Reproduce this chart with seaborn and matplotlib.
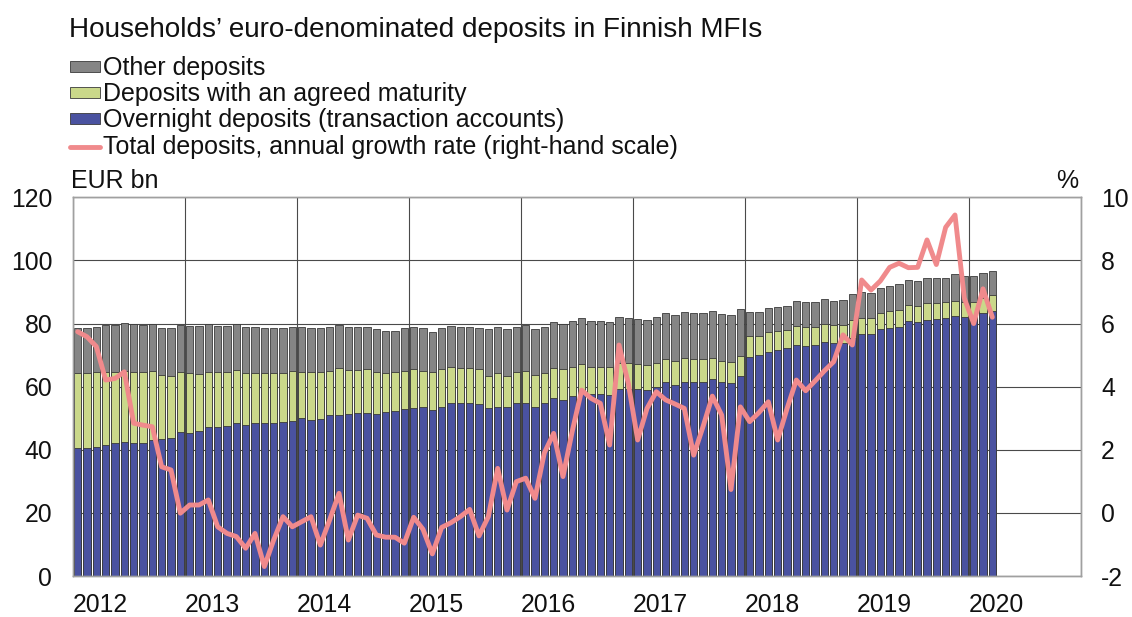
import numpy as np
import pandas as pd
import matplotlib
matplotlib.use("Agg")
import matplotlib.pyplot as plt
import seaborn as sns
from matplotlib.patches import Patch
from matplotlib.lines import Line2D

# ---------------- data (EUR bn, monthly Jan 2012 - Mar 2020) ----------------
years = ["2012", "2013", "2014", "2015", "2016", "2017", "2018", "2019", "2020"]

overnight = [
    40.7, 40.7, 41.0, 41.5, 42.0, 42.6, 42.3, 42.3, 43.1, 43.3, 43.8, 45.7,
    45.4, 45.9, 47.3, 47.1, 47.5, 48.6, 47.8, 48.4, 48.6, 48.6, 48.9, 49.2,
    50.2, 49.5, 49.8, 51.0, 51.1, 51.2, 51.5, 51.6, 51.4, 52.0, 52.4, 52.8,
    53.1, 53.6, 52.6, 53.6, 54.7, 54.7, 54.7, 54.5, 53.1, 53.6, 53.4, 54.7,
    54.7, 53.7, 54.7, 56.3, 55.8, 57.0, 57.7, 57.7, 57.7, 57.4, 59.1, 59.1,
    59.1, 58.9, 59.8, 61.6, 60.5, 61.6, 61.6, 61.6, 62.3, 61.6, 61.0, 63.4,
    69.5, 70.0, 71.1, 71.6, 72.1, 73.2, 73.0, 73.2, 74.0, 73.7, 73.7, 75.3,
    76.6, 76.6, 78.3, 78.7, 79.0, 80.8, 80.4, 81.1, 81.4, 81.9, 82.5, 82.2,
    82.2, 83.3, 84.0,
]

agreed = [
    23.7, 23.7, 23.7, 23.2, 22.7, 22.5, 22.4, 22.4, 22.0, 20.4, 19.5, 19.0,
    19.0, 18.2, 17.4, 17.6, 17.2, 16.8, 16.6, 16.0, 15.8, 15.8, 15.5, 15.9,
    14.5, 15.2, 14.9, 14.1, 14.7, 14.1, 13.8, 13.9, 13.3, 12.4, 12.3, 12.3,
    12.4, 11.5, 12.1, 11.9, 11.4, 11.1, 11.1, 11.0, 10.2, 10.8, 9.9, 10.0,
    10.3, 10.0, 9.5, 9.5, 9.7, 9.3, 9.5, 8.6, 8.6, 8.7, 8.5, 8.5,
    8.1, 8.0, 7.8, 7.1, 7.7, 7.4, 7.1, 7.1, 6.7, 6.6, 6.9, 6.3,
    6.7, 6.2, 6.1, 6.0, 5.9, 6.1, 6.0, 5.8, 5.7, 5.8, 5.8, 5.8,
    5.0, 5.3, 4.9, 5.3, 5.3, 5.1, 5.0, 5.3, 5.0, 4.8, 4.6, 4.7,
    4.7, 4.7, 4.9,
]

other = [
    14.1, 14.1, 14.3, 14.8, 14.8, 15.1, 15.1, 14.8, 14.7, 15.0, 15.2, 14.8,
    14.9, 15.1, 15.0, 14.6, 14.5, 14.3, 14.6, 14.6, 14.3, 14.2, 14.2, 13.9,
    14.1, 13.8, 13.8, 13.9, 13.7, 13.7, 13.5, 13.5, 13.5, 13.3, 13.0, 13.4,
    13.3, 13.4, 12.7, 13.0, 13.1, 13.0, 13.0, 13.0, 14.9, 14.4, 14.9, 14.3,
    14.5, 14.7, 14.6, 14.6, 14.3, 14.6, 14.4, 14.6, 14.6, 14.5, 14.4, 14.0,
    14.1, 14.2, 14.4, 14.7, 14.5, 14.8, 14.7, 14.7, 15.1, 14.8, 14.8, 14.8,
    7.6, 7.6, 7.6, 7.7, 7.6, 7.8, 7.7, 7.9, 8.1, 7.6, 7.9, 8.1,
    8.3, 7.7, 8.2, 8.0, 8.1, 7.9, 8.1, 7.9, 8.1, 7.8, 8.5, 8.2,
    8.3, 7.9, 7.8,
]

# Total deposits, annual growth rate, %
growth = [
    5.74, 5.58, 5.27, 4.21, 4.26, 4.47, 2.84, 2.78, 2.73, 1.46, 1.36, -0.01,
    0.25, 0.25, 0.41, -0.44, -0.65, -0.75, -1.12, -0.65, -1.70, -0.86, -0.12, -0.44,
    -0.28, -0.12, -1.02, -0.22, 0.62, -0.86, -0.07, -0.17, -0.70, -0.77, -0.77, -0.96,
    -0.14, -0.52, -1.30, -0.46, -0.31, -0.12, 0.11, -0.73, -0.12, 1.41, 0.09, 0.99,
    1.10, 0.46, 1.90, 2.52, 1.15, 2.60, 3.89, 3.63, 3.47, 2.15, 5.32, 4.10,
    2.31, 3.31, 3.84, 3.58, 3.45, 3.31, 1.83, 2.73, 3.70, 3.10, 0.74, 3.36,
    2.89, 3.18, 3.52, 2.31, 3.30, 4.21, 3.87, 4.18, 4.50, 4.79, 5.64, 5.32,
    7.38, 7.06, 7.35, 7.78, 7.91, 7.77, 7.78, 8.65, 7.87, 9.05, 9.44, 6.80,
    6.00, 7.10, 6.20,
]

title = "Households\u2019 euro-denominated deposits in Finnish MFIs"
labels = ["Other deposits",
          "Deposits with an agreed maturity",
          "Overnight deposits (transaction accounts)",
          "Total deposits, annual growth rate (right-hand scale)"]

# ---------------- styling ----------------
C_OTHER = "#858585"
C_AGREED = "#CAD88A"
C_OVER = "#4A52A0"
C_LINE = "#F08A8C"
EDGE = "#3a3a3a"

sns.set_theme(style="white")
plt.rcParams["font.family"] = ["Liberation Sans", "DejaVu Sans"]
plt.rcParams["axes.unicode_minus"] = False

n = len(overnight)
df = pd.DataFrame({
    "pos": np.arange(n),
    "overnight": overnight,
    "agreed": agreed,
    "other": other,
    "growth": growth,
})
df["lvl_green"] = df["overnight"] + df["agreed"]
df["lvl_total"] = df["lvl_green"] + df["other"]

W, H = 1132, 617
fig = plt.figure(figsize=(W / 100, H / 100), dpi=100)
L, R, T, B = 73, 1081, 197.3, 576
ax = fig.add_axes([L / W, 1 - B / H, (R - L) / W, (B - T) / H])

bar_kw = dict(width=0.78, edgecolor=EDGE, linewidth=0.6, saturation=1,
              errorbar=None, ax=ax, native_scale=True)
sns.barplot(data=df, x="pos", y="lvl_total", color=C_OTHER, **bar_kw)
sns.barplot(data=df, x="pos", y="lvl_green", color=C_AGREED, **bar_kw)
sns.barplot(data=df, x="pos", y="overnight", color=C_OVER, **bar_kw)

TICK_FS = 17.8
ax.set_ylim(0, 120)
ax.set_yticks(range(0, 121, 20))
ax.set_xlim(-0.5, 107.5)
ax.set_xticks([-0.5 + 12 * k for k in range(10)])
ax.set_xticklabels(years + [""], ha="left")
ax.set_xlabel("")
ax.set_ylabel("")
ax.set_axisbelow(True)
ax.grid(True, axis="both", color="#4a4a4a", linewidth=0.8)
ax.tick_params(axis="x", length=0, pad=12.5, labelsize=TICK_FS, colors="#111111")
ax.tick_params(axis="y", length=0, pad=15, labelsize=TICK_FS, colors="#111111")

ax2 = ax.twinx()
sns.lineplot(data=df, x="pos", y="growth", ax=ax2, color=C_LINE, linewidth=3.5)
ax2.set_ylim(-2, 10)
ax2.set_yticks(range(-2, 11, 2))
ax2.set_ylabel("")
ax2.grid(False)
ax2.tick_params(axis="y", length=0, pad=14.5, labelsize=TICK_FS, colors="#111111")
ax2.set_xlim(-0.5, 107.5)

for a in (ax, ax2):
    for s in a.spines.values():
        s.set_color("#a0a0a0")
        s.set_linewidth(1.0)
        s.set_visible(True)

fig.text(69 / W, 1 - 36.7 / H, title, fontsize=20.1, va="baseline", color="#111111")
fig.text(71 / W, 1 - 188.3 / H, "EUR bn", fontsize=18, va="baseline", color="#111111")
fig.text(1067 / W, 1 - 188.3 / H, "%", fontsize=18, va="baseline", ha="center", color="#111111")

handles = [
    Patch(facecolor=C_OTHER, edgecolor=EDGE, linewidth=0.6),
    Patch(facecolor=C_AGREED, edgecolor=EDGE, linewidth=0.6),
    Patch(facecolor=C_OVER, edgecolor=EDGE, linewidth=0.6),
    Line2D([0], [0], color=C_LINE, linewidth=3.5),
]
fig.legend(handles, labels, loc="upper left", bbox_to_anchor=(70 / W, 1 - 56 / H),
           frameon=False, fontsize=18, handlelength=1.2, handleheight=0.3,
           handletextpad=0.12, labelspacing=0.09, borderpad=0, borderaxespad=0,
           labelcolor="#111111")

fig.savefig("out.png", dpi=100)
